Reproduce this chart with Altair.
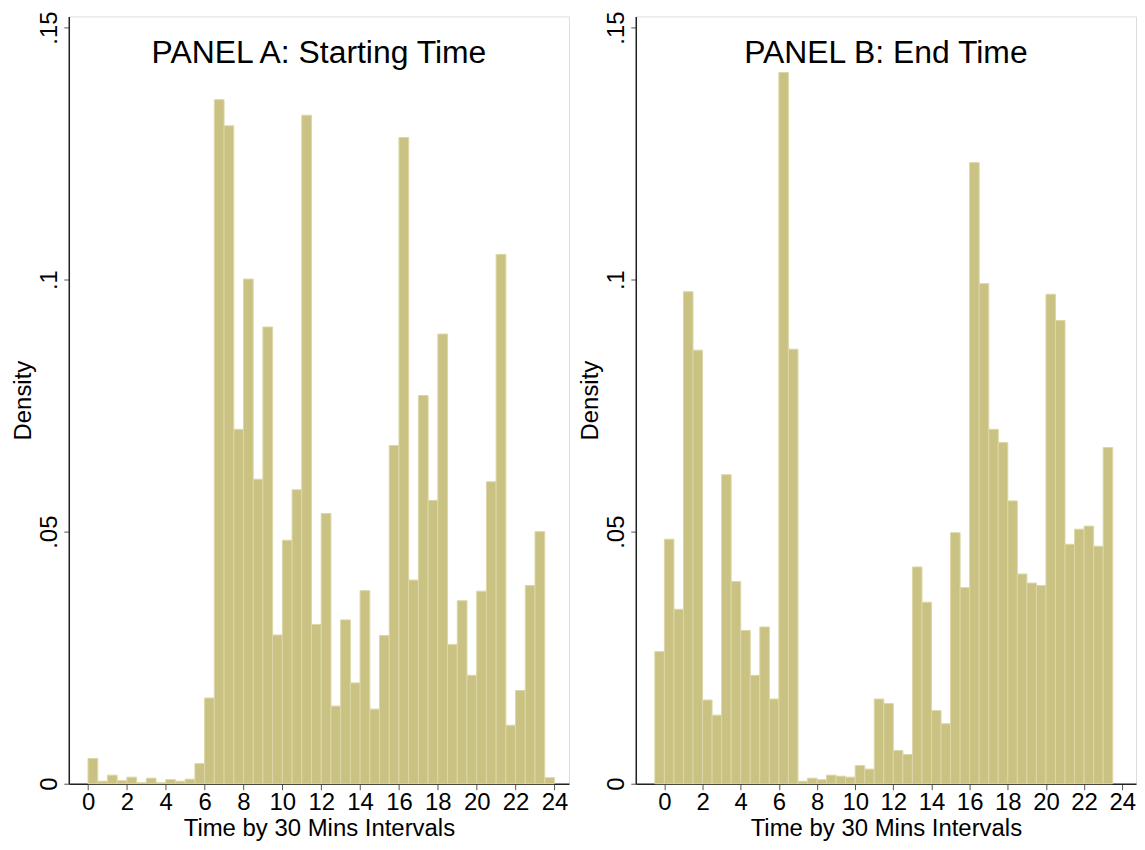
import altair as alt
import pandas as pd

# ---- data ----
start_bins = [0, 0.5, 1, 1.5, 2, 2.5, 3, 3.5, 4, 4.5, 5, 5.5, 6, 6.5, 7, 7.5,
              8, 8.5, 9, 9.5, 10, 10.5, 11, 11.5, 12, 12.5, 13, 13.5, 14, 14.5, 15, 15.5,
              16, 16.5, 17, 17.5, 18, 18.5, 19, 19.5, 20, 20.5, 21, 21.5, 22, 22.5, 23, 23.5]
start_density = [0.0050, 0.0005, 0.0017, 0.0006, 0.0013, 0.0002, 0.0011, 0.0002,
                 0.0008, 0.0005, 0.0009, 0.0040, 0.0170, 0.1357, 0.1305, 0.0703,
                 0.1001, 0.0604, 0.0906, 0.0295, 0.0483, 0.0583, 0.1326, 0.0316,
                 0.0536, 0.0154, 0.0325, 0.0200, 0.0383, 0.0148, 0.0294, 0.0671,
                 0.1282, 0.0404, 0.0770, 0.0562, 0.0892, 0.0276, 0.0363, 0.0215,
                 0.0382, 0.0599, 0.1050, 0.0116, 0.0185, 0.0393, 0.0500, 0.0012]

end_bins = [-0.5, 0, 0.5, 1, 1.5, 2, 2.5, 3, 3.5, 4, 4.5, 5, 5.5, 6, 6.5, 7,
            7.5, 8, 8.5, 9, 9.5, 10, 10.5, 11, 11.5, 12, 12.5, 13, 13.5, 14, 14.5, 15,
            15.5, 16, 16.5, 17, 17.5, 18, 18.5, 19, 19.5, 20, 20.5, 21, 21.5, 22, 22.5, 23]
end_density = [0.0262, 0.0485, 0.0346, 0.0976, 0.0860, 0.0166, 0.0136, 0.0613,
               0.0401, 0.0304, 0.0215, 0.0311, 0.0168, 0.1411, 0.0862, 0.0005,
               0.0011, 0.0008, 0.0017, 0.0015, 0.0013, 0.0036, 0.0029, 0.0168,
               0.0159, 0.0066, 0.0058, 0.0430, 0.0360, 0.0145, 0.0119, 0.0498,
               0.0389, 0.1232, 0.0992, 0.0703, 0.0677, 0.0561, 0.0416, 0.0398,
               0.0393, 0.0971, 0.0919, 0.0475, 0.0505, 0.0511, 0.0471, 0.0667]

bin_width = 0.5
x_ticks = [0, 2, 4, 6, 8, 10, 12, 14, 16, 18, 20, 22, 24]
y_ticks = [0, 0.05, 0.1, 0.15]

FONT = "Liberation Sans"
FILL = "#cac282"
EDGE = "#dcd7a6"
W, H = 502, 770
FS = 24

y_label_expr = "datum.value == 0 ? '0' : replace(format(datum.value, '.2~f'), '0.', '.')"


def panel(bins, dens, title, xdom):
    df = pd.DataFrame({"lo": bins, "density": dens})
    base = alt.Chart(df).transform_calculate(hi=f"datum.lo + {bin_width}")
    bars = base.mark_rect(fill=FILL, stroke=EDGE, strokeWidth=1).encode(
        x=alt.X("lo:Q", scale=alt.Scale(domain=xdom, nice=False, zero=False),
                axis=alt.Axis(values=x_ticks, title="Time by 30 Mins Intervals",
                              grid=False, labelFontSize=FS, titleFontSize=FS,
                              labelFont=FONT, titleFont=FONT, tickSize=6,
                              labelPadding=1, titlePadding=2, labelColor="#000",
                              titleColor="#000", tickColor="#555",
                              domainColor="#222", domainWidth=1.5,
                              labelFlush=False, titleFontWeight="normal")),
        x2="hi:Q",
        y=alt.Y("density:Q", scale=alt.Scale(domain=[0, 0.1522], nice=False),
                axis=alt.Axis(values=y_ticks, title="Density", grid=False,
                              labelExpr=y_label_expr, labelAngle=-90,
                              labelAlign="center", labelBaseline="bottom",
                              labelFontSize=FS, titleFontSize=FS,
                              labelFont=FONT, titleFont=FONT, tickSize=5,
                              labelPadding=2, titlePadding=2,
                              labelColor="#000", titleColor="#000",
                              tickColor="#555", domainColor="#222",
                              domainWidth=1.5, labelFlush=False,
                              titleFontWeight="normal")),
    )
    label = alt.Chart(pd.DataFrame({"t": [title]})).mark_text(
        font=FONT, fontSize=32, color="#000", baseline="middle", align="center"
    ).encode(text="t:N", x=alt.value(W / 2), y=alt.value(37))
    return alt.layer(bars, label).properties(width=W, height=H)


a = panel(start_bins, start_density, "PANEL A: Starting Time", [-0.99, 24.75])
b = panel(end_bins, end_density, "PANEL B: End Time", [-1.5, 24.72])

chart = alt.hconcat(a, b, spacing=8).properties(
    padding={"left": 3, "top": 0, "right": 0, "bottom": 0}
).configure_view(stroke="#555", strokeWidth=1.5).configure(background="white")

chart.save("out.html", embed_options={"renderer": "svg", "actions": False})
